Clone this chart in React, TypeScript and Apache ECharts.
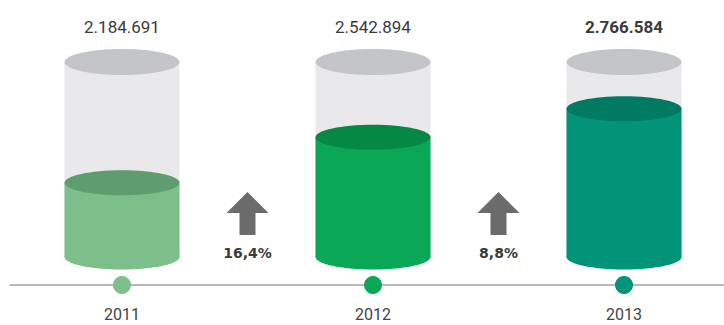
import React, { useEffect, useRef } from "react";
import * as echarts from "echarts";

const years = ["2011", "2012", "2013"];
const values = [2184691, 2542894, 2766584];
const valueLabels = ["2.184.691", "2.542.894", "2.766.584"];
const growthLabels = ["16,4%", "8,8%"];

const bodyColors = ["#7cbf8b", "#0aa856", "#019479"];
const topColors = ["#5f9d6f", "#068845", "#007a62"];
const labelWeights = ["normal", "normal", "bold"];

const Y_MIN = 1600000;
const Y_MAX = 3135000;
const HALF_W = 57.5;
const RY = 12.5;

export default function App() {
  const ref = useRef<HTMLDivElement>(null);
  useEffect(() => {
    document.body.style.margin = "0";
    const chart = echarts.init(ref.current!, null, { renderer: "svg" });
    const cylData = values.map((v, i) => [i, v]);
    const arrowData = growthLabels.map((_, i) => [i + 0.5, 0]);
    chart.setOption({
      animation: false,
      grid: { left: 10, right: 0, top: 62, bottom: 68, containLabel: false },
      xAxis: {
        type: "value",
        min: -0.4462,
        max: 2.3984,
        offset: 28,
        axisLine: { show: true, onZero: false, lineStyle: { color: "#a0a0a0", width: 1.5 } },
        axisTick: { show: false },
        axisLabel: { show: false },
        splitLine: { show: false },
      },
      yAxis: { type: "value", min: Y_MIN, max: Y_MAX, show: false, splitLine: { show: false } },
      series: [
        {
          type: "custom",
          data: cylData,
          z: 3,
          renderItem: (params: any, api: any) => {
            const i = params.dataIndex;
            const x = api.value(0);
            const v = api.value(1);
            const [cx, yLevel] = api.coord([x, v]);
            const [, yBase] = api.coord([x, Y_MIN]);
            const [, yTop] = api.coord([x, Y_MAX]);
            return {
              type: "group",
              children: [
                {
                  type: "rect",
                  shape: { x: cx - HALF_W, y: yTop, width: HALF_W * 2, height: yBase - yTop },
                  style: { fill: "#e9e9eb" },
                },
                {
                  type: "ellipse",
                  shape: { cx, cy: yTop, rx: HALF_W, ry: 13 },
                  style: { fill: "#c4c5c9" },
                },
                {
                  type: "ellipse",
                  shape: { cx, cy: yBase, rx: HALF_W, ry: RY },
                  style: { fill: bodyColors[i] },
                },
                {
                  type: "rect",
                  shape: { x: cx - HALF_W, y: yLevel, width: HALF_W * 2, height: yBase - yLevel },
                  style: { fill: bodyColors[i] },
                },
                {
                  type: "ellipse",
                  shape: { cx, cy: yLevel, rx: HALF_W, ry: RY },
                  style: { fill: topColors[i] },
                },
                {
                  type: "text",
                  style: {
                    x: cx,
                    y: yTop - 35,
                    text: valueLabels[i],
                    fill: "#3a3a3a",
                    font: `${labelWeights[i]} 17px Roboto`,
                    align: "center",
                    verticalAlign: "middle",
                  },
                },
                {
                  type: "circle",
                  shape: { cx, cy: yBase + 28, r: 9 },
                  style: { fill: bodyColors[i] },
                },
                {
                  type: "text",
                  style: {
                    x: cx,
                    y: yBase + 57,
                    text: years[i],
                    fill: "#444444",
                    font: "normal 16px Roboto",
                    align: "center",
                    verticalAlign: "middle",
                  },
                },
              ],
            };
          },
        },
        {
          type: "custom",
          data: arrowData,
          z: 2,
          renderItem: (params: any, api: any) => {
            const i = params.dataIndex;
            const [cx, yBase] = api.coord([api.value(0), Y_MIN]);
            const top = yBase - 65;
            const headBase = yBase - 44;
            const bottom = yBase - 22;
            const hw = 21;
            const sw = 8;
            return {
              type: "group",
              children: [
                {
                  type: "polygon",
                  shape: {
                    points: [
                      [cx, top],
                      [cx + hw, headBase],
                      [cx + sw, headBase],
                      [cx + sw, bottom],
                      [cx - sw, bottom],
                      [cx - sw, headBase],
                      [cx - hw, headBase],
                    ],
                  },
                  style: { fill: "#6b6b6b" },
                },
                {
                  type: "text",
                  style: {
                    x: cx,
                    y: yBase - 4,
                    text: growthLabels[i],
                    fill: "#3a3a3a",
                    font: "bold 14px 'DejaVu Sans'",
                    align: "center",
                    verticalAlign: "middle",
                  },
                },
              ],
            };
          },
        },
      ],
    });
    return () => chart.dispose();
  }, []);
  return <div ref={ref} style={{ width: 724, height: 325 }} />;
}
